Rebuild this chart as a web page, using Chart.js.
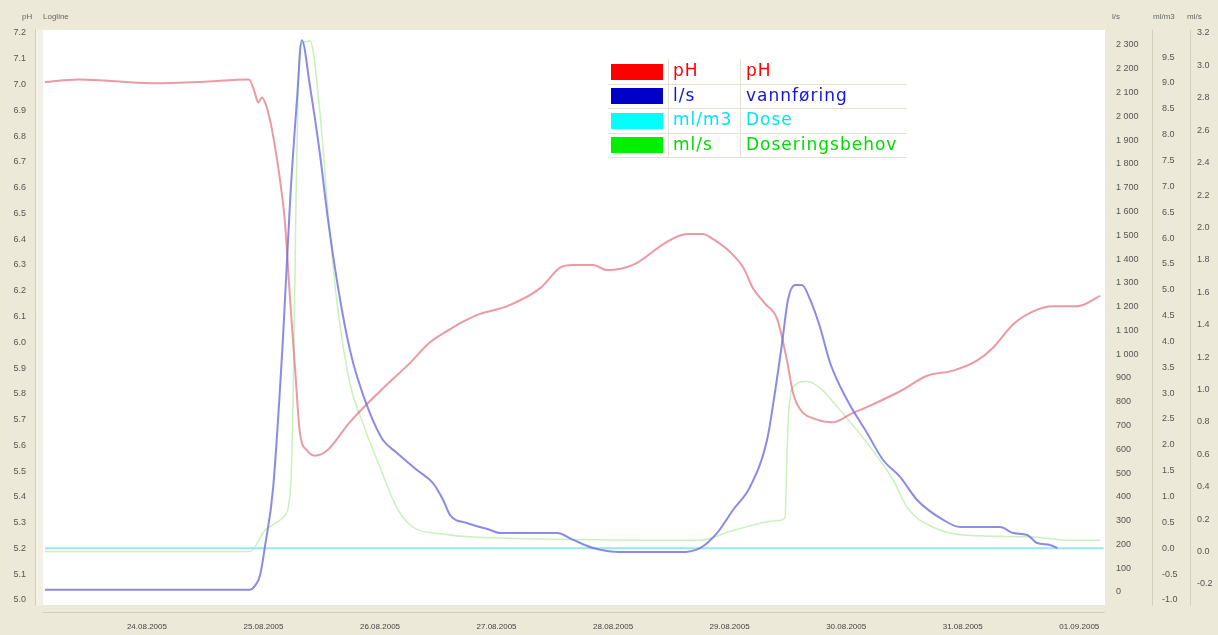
<!DOCTYPE html>
<html><head><meta charset="utf-8">
<script src="https://cdn.jsdelivr.net/npm/chart.js@4.4.0/dist/chart.umd.min.js"></script>
<style>html,body{margin:0;padding:0;background:#ECE9D8;overflow:hidden}canvas{display:block}</style>
</head><body>
<canvas id="c" width="1218" height="635"></canvas>
<script>
// ---- x axis (hours since 23.08.2005 00:00) ----
const dateTickHours = [24, 48, 72, 96, 120, 144, 168, 192, 216];
const dateLabels = ['24.08.2005','25.08.2005','26.08.2005','27.08.2005','28.08.2005','29.08.2005','30.08.2005','31.08.2005','01.09.2005'];

// ---- pH ----
const phHours = [3,10,25,35,45,46.2,46.9,47.7,48.7,49.8,51.4,52.4,53.5,54.5,55.5,57.0,58.6,61.1,65.8,72,78.2,82.3,86.4,89.1,92.6,98.2,105,109.1,111.8,115.9,118.8,124.1,131.1,135.2,138.5,140.6,144.1,146.8,148.8,151.3,153.8,155.8,157.1,158.5,162,165.3,168.8,173.6,179.1,184.7,190,195,198.3,202.4,206.5,210.6,215.6,220.3];
const phValues = [7.01,7.02,7.005,7.01,7.02,6.97,6.93,6.95,6.91,6.82,6.63,6.47,6.16,5.90,5.65,5.58,5.56,5.58,5.69,5.81,5.92,6.00,6.05,6.08,6.11,6.14,6.21,6.29,6.30,6.30,6.28,6.30,6.39,6.42,6.42,6.40,6.35,6.29,6.21,6.15,6.09,5.93,5.80,5.74,5.70,5.69,5.72,5.76,5.81,5.87,5.89,5.93,5.98,6.07,6.12,6.14,6.14,6.18];

// ---- l/s vannføring ----
const flowHours = [3,45.2,46.2,47.3,48.3,50.0,52.0,53.5,54.9,55.9,57.6,59.6,61.3,63.8,65.8,67.3,69.9,72.6,75.5,79.6,82.9,85.0,86.4,89.9,94.7,96.7,108.5,111.8,115.9,121.4,133.8,137.9,141.4,144.7,148.2,151.7,153.0,154.8,156.0,157.5,158.9,160.6,162.6,164.7,168.2,172.3,175.6,179.1,182.6,188.0,191.5,199.7,202.4,205.3,207.3,210.0,211.5];
const flowValues = [10,10,25,70,190,440,1060,1650,2070,2320,2124,1846,1564,1228,1018,904,753,639,585,513,458,387,324,290,261,248,248,219,185,168,168,185,248,345,442,639,795,1047,1228,1291,1291,1228,1114,963,807,669,555,484,387,303,273,273,248,240,206,198,185];

// ---- ml/m3 Dose ----
const doseHours = [3, 221];
const doseValues = [0.0, 0.0];

// ---- ml/s Doseringsbehov ----
const needHours = [3,45.2,48.3,52.0,53.5,54.1,54.7,55.5,57.6,59.6,61.3,63.1,65.8,68.5,72.0,75.5,78.8,84.4,91.2,137.9,144.7,153.8,155.4,156.0,156.9,160.0,162.6,166.8,172.3,177.7,180.6,185.9,192.9,206.5,213.5,220.3];
const needValues = [0.0,0.0,0.13,0.21,0.36,0.93,2.16,3.12,3.15,2.72,2.10,1.55,1.04,0.79,0.52,0.27,0.15,0.11,0.09,0.07,0.13,0.19,0.21,0.77,1.01,1.05,1.01,0.87,0.67,0.44,0.27,0.15,0.10,0.09,0.07,0.07];

// ---- tick labels ----
const phTicks = [5.0,5.1,5.2,5.3,5.4,5.5,5.6,5.7,5.8,5.9,6.0,6.1,6.2,6.3,6.4,6.5,6.6,6.7,6.8,6.9,7.0,7.1,7.2];
const flowTicks = [0,100,200,300,400,500,600,700,800,900,1000,1100,1200,1300,1400,1500,1600,1700,1800,1900,2000,2100,2200,2300];
const doseTicks = [-1.0,-0.5,0.0,0.5,1.0,1.5,2.0,2.5,3.0,3.5,4.0,4.5,5.0,5.5,6.0,6.5,7.0,7.5,8.0,8.5,9.0,9.5];
const needTicks = [-0.2,0.0,0.2,0.4,0.6,0.8,1.0,1.2,1.4,1.6,1.8,2.0,2.2,2.4,2.6,2.8,3.0,3.2];

// ---- legend ----
const legendUnits = ['pH','l/s','ml/m3','ml/s'];
const legendNames = ['pH','vannføring','Dose','Doseringsbehov'];
const legendSwatch = ['#ff0000','#0000c8','#00ffff','#00f000'];
const legendText = ['#ff0000','#1414d2','#00e4f4','#00dc00'];

const pts = (xs, ys) => xs.map((x, i) => ({x, y: ys[i]}));
const fixTicks = list => (s) => { s.ticks = list.map(v => ({value: v})); };
const fixW = w => (s) => { s.width = w; };

Chart.defaults.font.family = '"Liberation Sans", Arial, sans-serif';
Chart.defaults.color = '#555';

const bgPlugin = {
  id: 'bg',
  beforeDraw(chart) {
    const ctx = chart.ctx;
    ctx.save();
    ctx.fillStyle = '#ECE9D8';
    ctx.fillRect(0, 0, chart.width, chart.height);
    ctx.fillStyle = '#F3F1E6';
    ctx.fillRect(35, 29, 8, 577);
    ctx.fillStyle = '#ffffff';
    ctx.fillRect(43, 30, 1062, 575);
    ctx.strokeStyle = '#D4D0C0';
    ctx.lineWidth = 1;
    ctx.beginPath();
    ctx.moveTo(35.5, 29); ctx.lineTo(35.5, 606);
    ctx.moveTo(1152.5, 30); ctx.lineTo(1152.5, 606);
    ctx.moveTo(1190.5, 30); ctx.lineTo(1190.5, 606);
    ctx.moveTo(43, 612.5); ctx.lineTo(1105, 612.5);
    ctx.stroke();
    ctx.fillStyle = '#666';
    ctx.font = '8px "Liberation Sans", Arial, sans-serif';
    ctx.textBaseline = 'middle';
    ctx.fillText('pH', 22, 17);
    ctx.fillText('Logline', 43, 17);
    ctx.fillText('l/s', 1112, 17);
    ctx.fillText('ml/m3', 1153, 17);
    ctx.fillText('ml/s', 1187, 17);
    ctx.restore();
  },
  afterDraw(chart) {
    const ctx = chart.ctx;
    ctx.save();
    const x0 = 608, y0 = 59, rowH = 24.5;
    ctx.strokeStyle = '#E4E0D2';
    ctx.lineWidth = 1;
    ctx.beginPath();
    for (let i = 0; i < legendUnits.length; i++) {
      const yb = Math.round(y0 + (i + 1) * rowH) + 0.5;
      ctx.moveTo(x0, yb); ctx.lineTo(907, yb);
    }
    ctx.moveTo(668.5, y0); ctx.lineTo(668.5, y0 + 4 * rowH);
    ctx.moveTo(740.5, y0); ctx.lineTo(740.5, y0 + 4 * rowH);
    ctx.stroke();
    ctx.font = '17px "DejaVu Sans", sans-serif';
    try { ctx.letterSpacing = '1px'; } catch (e) {}
    ctx.textBaseline = 'middle';
    for (let i = 0; i < legendUnits.length; i++) {
      const yc = y0 + i * rowH + rowH / 2 + 0.5;
      ctx.fillStyle = legendSwatch[i];
      ctx.fillRect(611, Math.round(yc - 8), 52, 16);
      ctx.fillStyle = legendText[i];
      ctx.fillText(legendUnits[i], 673, yc);
      ctx.fillText(legendNames[i], 746, yc);
    }
    ctx.restore();
  }
};

const common = {pointRadius: 0, pointHoverRadius: 0, fill: false, cubicInterpolationMode: 'monotone'};

new Chart(document.getElementById('c'), {
  type: 'line',
  data: {
    datasets: [
      {...common, label: 'vannføring', data: pts(flowHours, flowValues), yAxisID: 'yFlow', borderColor: 'rgba(110,110,222,0.8)', borderWidth: 2, order: 1},
      {...common, label: 'pH', data: pts(phHours, phValues), yAxisID: 'yPh', borderColor: 'rgba(222,100,112,0.65)', borderWidth: 2, order: 2},
      {...common, label: 'Dose', data: pts(doseHours, doseValues), yAxisID: 'yDose', borderColor: 'rgb(150,232,236)', borderWidth: 2, order: 3},
      {...common, label: 'Doseringsbehov', data: pts(needHours, needValues), yAxisID: 'yNeed', borderColor: 'rgba(190,238,175,0.85)', borderWidth: 1.5, order: 4}
    ]
  },
  options: {
    responsive: false,
    animation: false,
    devicePixelRatio: 1,
    layout: {padding: {top: 33, left: 0, right: 0, bottom: 0}},
    plugins: {legend: {display: false}, tooltip: {enabled: false}, title: {display: false}},
    events: [],
    scales: {
      x: {
        type: 'linear', position: 'bottom', min: 2.6, max: 221.3,
        grid: {display: false, drawTicks: false}, border: {display: false},
        afterBuildTicks: fixTicks(dateTickHours),
        afterFit: s => { s.height = 35; },
        ticks: {autoSkip: false, maxRotation: 0, padding: 22, color: '#444',
          font: {size: 8},
          callback: v => dateLabels[dateTickHours.indexOf(v)] || ''}
      },
      yPh: {
        type: 'linear', position: 'left', min: 5.0, max: 7.2,
        grid: {display: false, drawTicks: false}, border: {display: false},
        afterBuildTicks: fixTicks(phTicks), afterFit: fixW(43),
        ticks: {autoSkip: false, padding: 17, font: {size: 9}, color: '#555', callback: v => v.toFixed(1)}
      },
      yFlow: {
        type: 'linear', position: 'right', min: -33.6, max: 2350.5,
        grid: {display: false, drawTicks: false}, border: {display: false},
        afterBuildTicks: fixTicks(flowTicks), afterFit: fixW(47),
        ticks: {autoSkip: false, padding: 11, font: {size: 9}, color: '#555',
          callback: v => v >= 1000 ? Math.floor(v / 1000) + ' ' + String(v % 1000).padStart(3, '0') : String(v)}
      },
      yDose: {
        type: 'linear', position: 'right', min: -1.0, max: 9.965,
        grid: {display: false, drawTicks: false}, border: {display: false},
        afterBuildTicks: fixTicks(doseTicks), afterFit: fixW(38),
        ticks: {autoSkip: false, padding: 10, font: {size: 9}, color: '#555', callback: v => v.toFixed(1)}
      },
      yNeed: {
        type: 'linear', position: 'right', min: -0.299, max: 3.2,
        grid: {display: false, drawTicks: false}, border: {display: false},
        afterBuildTicks: fixTicks(needTicks), afterFit: fixW(28),
        ticks: {autoSkip: false, padding: 7, font: {size: 9}, color: '#555', callback: v => v.toFixed(1)}
      }
    }
  },
  plugins: [bgPlugin]
});
</script>
</body></html>
